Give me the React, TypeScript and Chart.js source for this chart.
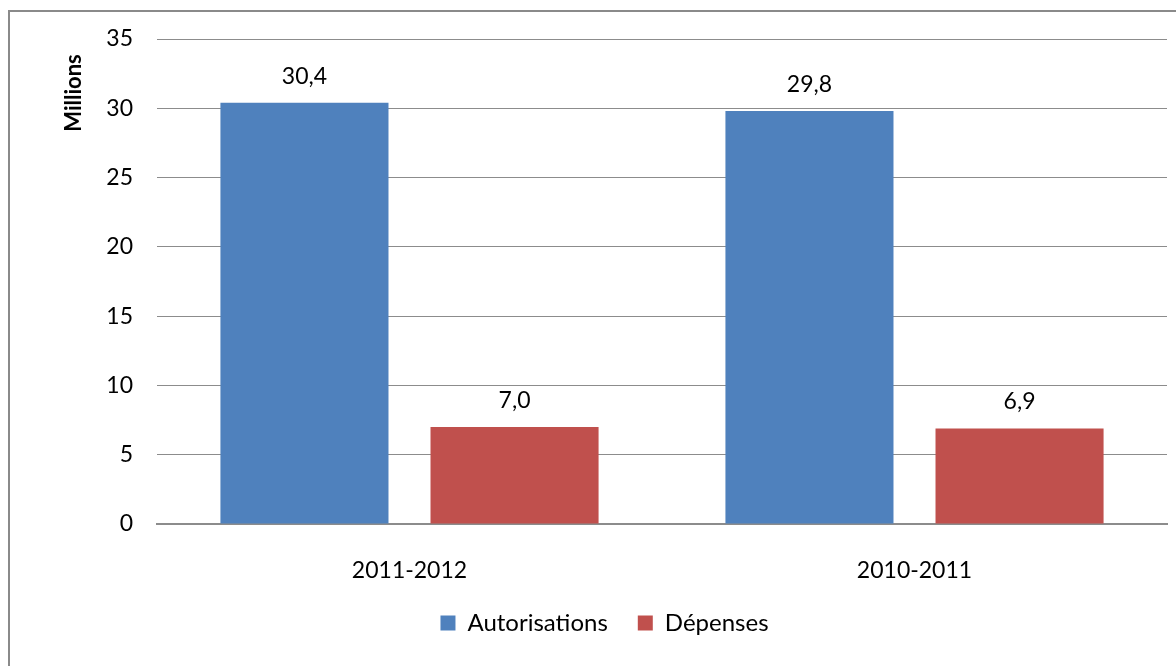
import React, { useEffect, useRef } from "react";
import { Chart, registerables } from "chart.js";

Chart.register(...registerables);

const categories = ["2011-2012", "2010-2011"];
const autorisations = [30.4, 29.8];
const depenses = [7.0, 6.9];
const seriesNames = ["Autorisations", "Dépenses"];
const yTitle = "Millions";

const FONT = "Lato, 'Open Sans', sans-serif";
const BLUE = "#4F81BD";
const RED = "#C0504D";
const GRID = "#8c8c8c";

const fmt = (v: number) => v.toFixed(1).replace(".", ",");

const valueLabels = {
  id: "valueLabels",
  afterDatasetsDraw(chart: any) {
    const ctx = chart.ctx;
    ctx.save();
    ctx.font = `23px ${FONT}`;
    ctx.fillStyle = "#000";
    ctx.textAlign = "center";
    ctx.textBaseline = "alphabetic";
    chart.data.datasets.forEach((ds: any, i: number) => {
      const meta = chart.getDatasetMeta(i);
      meta.data.forEach((el: any, j: number) => {
        ctx.fillText(fmt(ds.data[j]), el.x, el.y - 19);
      });
    });
    ctx.restore();
  },
};

const axisTitle = {
  id: "axisTitle",
  afterDraw(chart: any) {
    const ctx = chart.ctx;
    ctx.save();
    ctx.font = `bold 22px ${FONT}`;
    ctx.fillStyle = "#000";
    ctx.textAlign = "center";
    ctx.textBaseline = "middle";
    ctx.translate(74, 93);
    ctx.rotate(-Math.PI / 2);
    ctx.fillText(yTitle, 0, 0);
    ctx.restore();
  },
};

export default function App() {
  const ref = useRef<HTMLCanvasElement | null>(null);

  useEffect(() => {
    if (!ref.current) return;
    const chart = new Chart(ref.current, {
      type: "bar",
      data: {
        labels: categories,
        datasets: [
          { label: seriesNames[0], data: autorisations, backgroundColor: BLUE },
          { label: seriesNames[1], data: depenses, backgroundColor: RED },
        ],
      },
      options: {
        animation: false,
        responsive: false,
        devicePixelRatio: 1,
        layout: { padding: { left: 42, right: 9, top: 39, bottom: 21 } },
        datasets: {
          bar: { categoryPercentage: 0.832, barPercentage: 0.8 },
        },
        scales: {
          x: {
            grid: { display: false, drawTicks: false },
            border: { display: true, color: GRID, width: 2 },
            ticks: { color: "#000", font: { family: FONT, size: 23 }, padding: 33 },
            afterFit: (s: any) => {
              s.height = 57;
            },
          },
          y: {
            min: 0,
            max: 35,
            grid: { color: GRID, lineWidth: 1, drawTicks: false },
            border: { display: false },
            ticks: {
              stepSize: 5,
              color: "#000",
              font: { family: FONT, size: 23 },
              padding: 24,
            },
            afterFit: (s: any) => {
              s.width = 115;
            },
          },
        },
        plugins: {
          legend: {
            position: "bottom",
            labels: {
              boxWidth: 15,
              boxHeight: 15,
              padding: 30,
              color: "#000",
              font: { family: FONT, size: 24 },
            },
          },
          tooltip: { enabled: false },
        },
      },
      plugins: [valueLabels, axisTitle],
    });
    return () => chart.destroy();
  }, []);

  return (
    <div
      style={{
        position: "fixed",
        left: 0,
        top: 0,
        width: 1176,
        height: 666,
        overflow: "hidden",
        background: "#fff",
      }}
    >
      <div
        style={{
          position: "absolute",
          left: 8,
          top: 10,
          width: 2000,
          height: 2000,
          borderTop: "2px solid #8a8a8a",
          borderLeft: "2px solid #8a8a8a",
        }}
      />
      <canvas
        ref={ref}
        width={1176}
        height={666}
        style={{ position: "absolute", left: 0, top: 0, width: 1176, height: 666 }}
      />
    </div>
  );
}
